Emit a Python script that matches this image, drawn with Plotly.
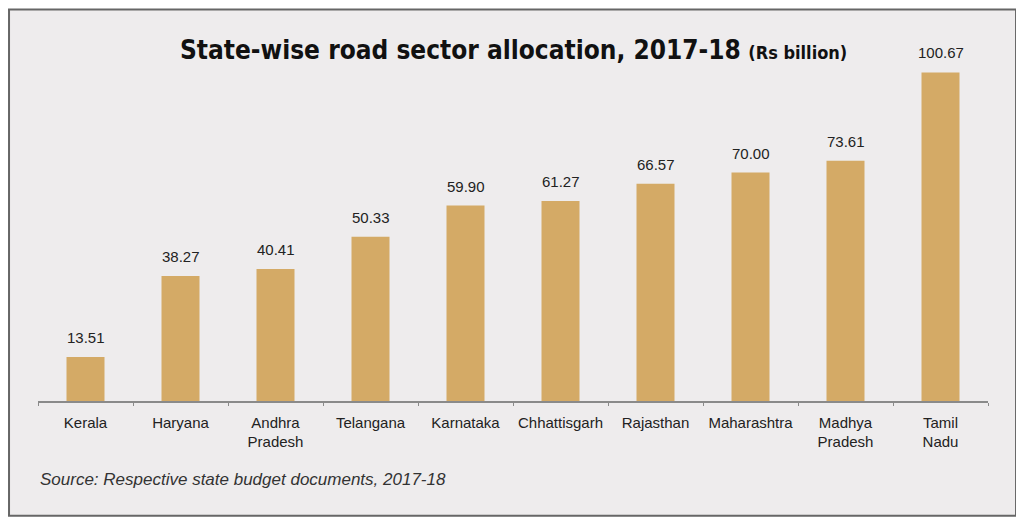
import plotly.graph_objects as go

# State-wise road sector allocation, 2017-18 (Rs billion)
states = ["Kerala", "Haryana", "Andhra<br>Pradesh", "Telangana", "Karnataka",
          "Chhattisgarh", "Rajasthan", "Maharashtra", "Madhya<br>Pradesh", "Tamil<br>Nadu"]
allocation = [13.51, 38.27, 40.41, 50.33, 59.90, 61.27, 66.57, 70.00, 73.61, 100.67]

BAR = "#d4aa66"
BG = "#eeeced"
LABEL_FONT = "Liberation Sans, Arial"

fig = go.Figure()
fig.add_trace(go.Bar(
    x=states, y=allocation,
    marker=dict(color=BAR, line=dict(width=0)),
    hoverinfo="skip",
))

# value labels above each bar
value_labels = [
    dict(x=s, y=v, text=f"{v:.2f}", xref="x", yref="y",
         xanchor="center", yanchor="bottom", yshift=9, showarrow=False,
         font=dict(family=LABEL_FONT, size=15, color="#222"))
    for s, v in zip(states, allocation)
]

fig.update_layout(
    width=1010, height=510,
    margin=dict(l=30, r=30, t=33.5, b=117),
    paper_bgcolor="white",
    plot_bgcolor="rgba(0,0,0,0)",
    showlegend=False,
    bargap=0.6,
    font=dict(family=LABEL_FONT, color="#222"),
    xaxis=dict(
        showline=True, linecolor="#8a8a8a", linewidth=1.5,
        ticks="outside", tickson="boundaries", ticklen=3, tickcolor="#8a8a8a",
        ticklabelstandoff=7,
        tickfont=dict(size=15, color="#222"),
        showgrid=False, fixedrange=True,
    ),
    yaxis=dict(range=[0, 110], visible=False, showgrid=False, fixedrange=True),
    shapes=[dict(
        type="rect", xref="paper", yref="paper", layer="below",
        x0=-0.0305, x1=1.0295, y0=-0.3199, y1=1.0904,
        fillcolor=BG, line=dict(color="#666", width=2),
    )],
    annotations=value_labels + [
        dict(
            text="<b>State-wise road sector allocation, 2017-18</b> "
                 "<b><span style='font-size:18px'>(Rs billion)</span></b>",
            xref="paper", yref="paper", x=0.5005, y=0.978,
            xanchor="center", yanchor="middle", showarrow=False,
            font=dict(family="DejaVu Sans Condensed, DejaVu Sans", size=26, color="#111"),
        ),
        dict(
            text="<i>Source: Respective state budget documents, 2017-18</i>",
            xref="paper", yref="paper", x=0.0, y=-0.2197,
            xanchor="left", yanchor="middle", showarrow=False,
            font=dict(family=LABEL_FONT, size=17, color="#333"),
        ),
    ],
)

fig.write_html("out.html")
